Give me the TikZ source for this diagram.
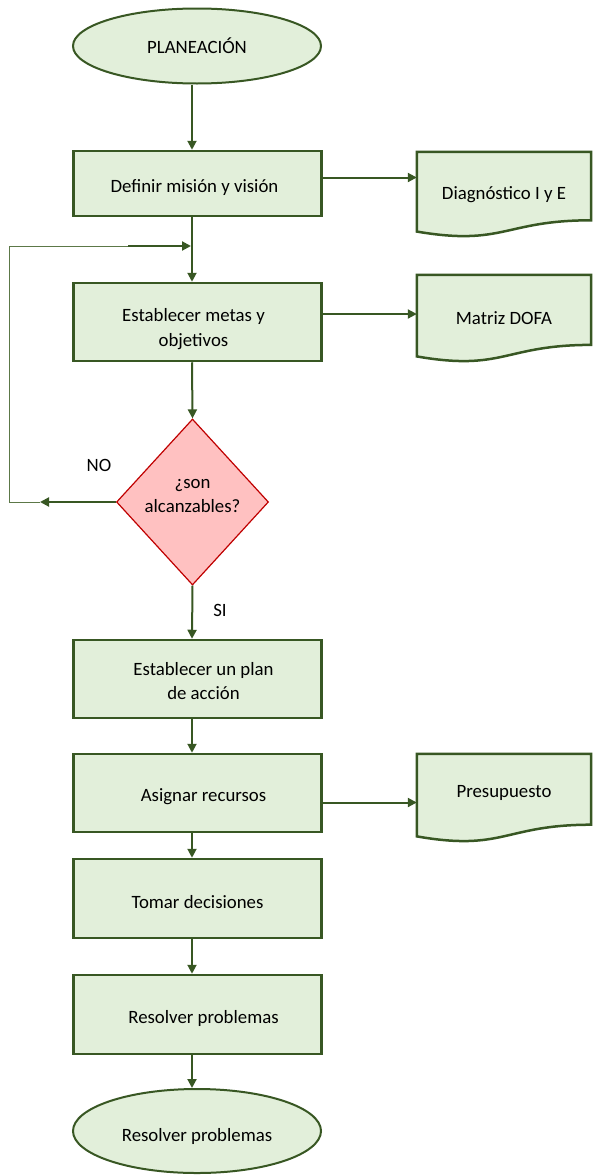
\documentclass[tikz,border=0pt]{standalone}
\usepackage{fontspec}
\setmainfont{Carlito}
\usetikzlibrary{shapes.geometric,arrows.meta,calc}

\definecolor{lineGreen}{RGB}{56,87,35}
\definecolor{fillGreen}{RGB}{226,239,218}
\definecolor{decRed}{RGB}{192,0,0}
\definecolor{decFill}{RGB}{255,193,193}
\definecolor{loopGreen}{RGB}{92,120,72}

\pgfdeclarelayer{background}
\pgfsetlayers{background,main}

% wavy-bottom document outline drawn behind a document node
\newcommand\docoutline[1]{%
  \begin{pgfonlayer}{background}
    \path[docshape] (#1.north west) -- (#1.north east)
      -- ($(#1.north east)!0.802!(#1.south east)$)
      .. controls ($(#1.north)!0.802!(#1.south)$) and ($(#1.north)!1.107!(#1.south)$)
      .. ($(#1.north west)!0.934!(#1.south west)$) -- cycle;
  \end{pgfonlayer}}

\begin{document}
\begin{tikzpicture}[x=1pt,y=-1pt,
  every node/.style={font=\fontsize{18.8}{24.5}\selectfont, text=black, inner sep=0pt},
  procbox/.style={rectangle, draw=lineGreen, line width=2.5pt, fill=fillGreen,
                  minimum width=248pt},
  terminal/.style={ellipse, draw=lineGreen, line width=2pt, fill=fillGreen,
                   minimum width=248pt},
  decision/.style={diamond, draw=decRed, line width=1.2pt, fill=decFill,
                   minimum width=152pt, minimum height=166pt},
  docnode/.style={rectangle, minimum width=174pt, align=center},
  docshape/.style={draw=lineGreen, line width=2.5pt, fill=fillGreen, line join=miter},
  boxtext/.style={align=center, yshift=-4pt},
  flow/.style={draw=lineGreen, line width=2pt, -{Triangle[length=9pt,width=9pt]}},
  loopline/.style={draw=loopGreen, line width=1pt},
  tag/.style={}
]
\useasboundingbox (0,0) rectangle (592,1175);

% main column
\node[terminal, minimum height=75pt] (e1) at (197,46) {PLANEACIÓN};
\node[procbox, minimum height=65pt, label={[boxtext, name=b1text, xshift=-3pt]center:{Definir misión y visión}}]
  (b1) at (197.5,183.5) {};
\node[procbox, minimum height=78pt, label={[boxtext, name=b2text, xshift=-4pt, yshift=-3pt]center:{Establecer metas y\\objetivos}}]
  (b2) at (197.5,322) {};
\node[decision, label={[align=center, name=dectext, yshift=6pt]center:{¿son\\alcanzables?}}]
  (dec) at (192.5,502) {};
\node[procbox, minimum height=78pt, label={[boxtext, name=b3text, xshift=6pt, yshift=2pt]center:{Establecer un plan\\de acción}}]
  (b3) at (197.5,679) {};
\node[procbox, minimum height=78pt, label={[boxtext, name=b4text, xshift=6pt]center:{Asignar recursos}}]
  (b4) at (197.5,793) {};
\node[procbox, minimum height=79pt, label={[boxtext, name=b5text]center:{Tomar decisiones}}]
  (b5) at (197.5,898.5) {};
\node[procbox, minimum height=79pt, label={[boxtext, name=b6text, xshift=6pt]center:{Resolver problemas}}]
  (b6) at (197.5,1014.5) {};
\node[terminal, minimum height=84pt, label={[boxtext, name=e2text, yshift=-1pt]center:{Resolver problemas}}]
  (e2) at (197,1131) {};

% documents on the right
\node[docnode, minimum height=85pt] (d1) at (504,194.5) {Diagnóstico I y E};
\docoutline{d1}
\node[docnode, minimum height=87pt] (d2) at (504,318.5) {Matriz DOFA};
\docoutline{d2}
\node[docnode, minimum height=88pt, label={[name=d3text, yshift=5pt]center:{Presupuesto}}]
  (d3) at (504,798) {};
\docoutline{d3}

% branch labels
\node[tag] (no) at (99,465) {NO};
\node[tag] (si) at (220,610) {SI};

% connectors
\coordinate (spine) at (192,0);
\draw[flow] (e1.south -| spine) -- (b1.north -| spine);
\draw[flow] (b1.south -| spine) -- (b2.north -| spine);
\draw[flow] (b2.south -| spine) -- (dec.north);
\draw[flow] (dec.south) -- (b3.north -| spine);
\draw[flow] (b3.south -| spine) -- (b4.north -| spine);
\draw[flow] (b4.south -| spine) -- (b5.north -| spine);
\draw[flow] (b5.south -| spine) -- (b6.north -| spine);
\draw[flow] (b6.south -| spine) -- (e2.north -| spine);

\coordinate (r1) at (0,177.5);
\coordinate (r2) at (0,314);
\coordinate (r3) at (0,802.5);
\draw[flow] (b1.east |- r1) -- (d1.west |- r1);
\draw[flow] (b2.east |- r2) -- (d2.west |- r2);
\draw[flow] (b4.east |- r3) -- (d3.west |- r3);

% return path for the NO branch
\coordinate (noTip) at (40,502);
\coordinate (loopBL) at (9.5,502);
\coordinate (loopTL) at (9.5,246);
\coordinate (loopJoin) at (128,246);
\draw[flow] (dec.west) -- (noTip);
\draw[loopline] (noTip) -- (loopBL) -- (loopTL) -- (loopJoin);
\draw[flow, shorten >=1pt] (loopJoin) -- (loopJoin -| spine);
\end{tikzpicture}
\end{document}
